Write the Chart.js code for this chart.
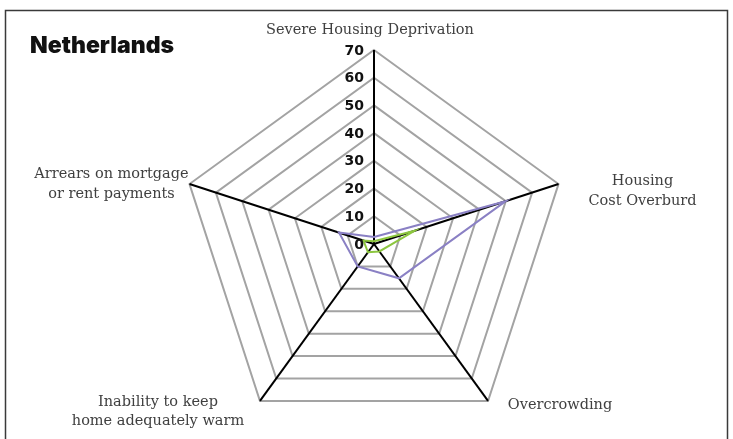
<!DOCTYPE html>
<html>
<head>
<meta charset="utf-8">
<script src="https://cdn.jsdelivr.net/npm/chart.js@4.4.1/dist/chart.umd.min.js"></script>
<style>
  html, body { margin: 0; padding: 0; background: #fff; }
</style>
</head>
<body>
<canvas id="radarChart" width="733" height="439"></canvas>
<script>
const title = 'Netherlands'

const categories = [
  'Severe Housing Deprivation',
  ['Housing', 'Cost Overburd'],
  'Overcrowding',
  ['Inability to keep', 'home adequately warm'],
  ['Arrears on mortgage', 'or rent payments']
]

const seriesPurple = [2.5, 50, 15.3, 10, 13.3]
const seriesGreen = [1, 15.4, 3.3, 3.7, 4]

const tickValues = [0, 10, 20, 30, 40, 50, 60, 70]

// shift of each axis label from its outer vertex (x, y)
const labelShift = [[-4, -20], [84, 7], [72, 4], [-102, 11], [-78, 0]]

const frameAndText = {
  id: 'frameAndText',
  beforeDraw(chart) {
    const ctx = chart.ctx
    ctx.save()
    ctx.strokeStyle = '#3a3a3a'
    ctx.lineWidth = 1.5
    ctx.beginPath()
    ctx.moveTo(5.5, 439)
    ctx.lineTo(5.5, 10.5)
    ctx.lineTo(727.5, 10.5)
    ctx.lineTo(727.5, 439)
    ctx.stroke()
    ctx.restore()
  },
  afterDraw(chart) {
    const ctx = chart.ctx
    const r = chart.scales.r
    ctx.save()

    ctx.font = '900 23px Inter'
    ctx.fillStyle = '#111'
    ctx.textAlign = 'left'
    ctx.textBaseline = 'alphabetic'
    ctx.fillText(title, 30, 53)

    // scale values, left of the vertical axis
    ctx.font = 'bold 14px "DejaVu Sans"'
    ctx.textAlign = 'right'
    ctx.textBaseline = 'middle'
    tickValues.forEach(v => {
      const y = r.yCenter - r.getDistanceFromCenterForValue(v)
      ctx.fillText(String(v), r.xCenter - 10, y + 1)
    })

    ctx.font = '14.5px "DejaVu Serif"'
    ctx.fillStyle = '#404040'
    ctx.textAlign = 'center'
    categories.forEach((lab, i) => {
      const p = r.getPointPosition(i, r.drawingArea)
      const lines = Array.isArray(lab) ? lab : [lab]
      const cx = p.x + labelShift[i][0]
      const cy = p.y + labelShift[i][1]
      lines.forEach((ln, k) => {
        ctx.fillText(ln, cx, cy + (k - (lines.length - 1) / 2) * 19.5)
      })
    })
    ctx.restore()
  }
}

const data = {
  labels: categories,
  datasets: [{
    data: seriesPurple,
    borderColor: '#8a80c4',
    borderWidth: 2,
    pointRadius: 0,
    fill: false
  }, {
    data: seriesGreen,
    borderColor: '#8cc63f',
    borderWidth: 2,
    pointRadius: 0,
    fill: false
  }]
}

const config = {
  type: 'radar',
  data,
  options: {
    responsive: false,
    animation: false,
    layout: { padding: { top: 50, bottom: 1, left: 100, right: 85 } },
    plugins: {
      legend: { display: false },
      tooltip: { enabled: false }
    },
    scales: {
      r: {
        min: 0,
        max: 70,
        ticks: { display: false, stepSize: 10 },
        pointLabels: { display: false },
        grid: { color: '#a3a3a3', lineWidth: 2 },
        angleLines: { color: '#000', lineWidth: 2 }
      }
    }
  },
  plugins: [frameAndText]
}

const myChart = new Chart(document.getElementById('radarChart'), config)
</script>
</body>
</html>
